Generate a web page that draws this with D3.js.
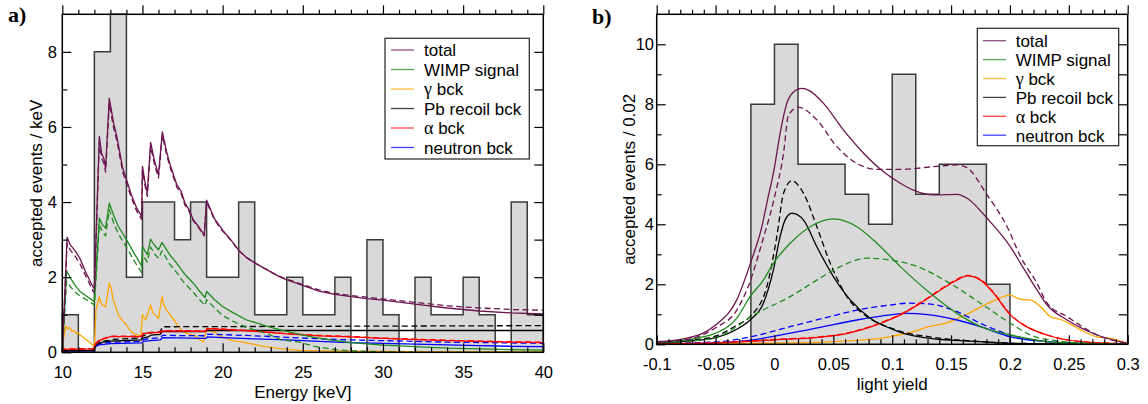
<!DOCTYPE html>
<html>
<head>
<meta charset="utf-8">
<script src="https://cdn.jsdelivr.net/npm/d3@7"></script>
<style>
  body { margin: 0; background: #fff; }
  svg { display: block; }
</style>
</head>
<body>
<svg id="chart" width="1148" height="404"></svg>
<script>
// ---------- panel a: energy spectrum ----------
const energyBinStart = [10,11,12,13,14,15,16,17,18,19,20,21,22,23,24,25,26,27,28,29,30,31,32,33,34,35,36,37,38,39];
const energyCounts   = [1,0,8,9,2,4,4,3,4,2,2,4,1,1,2,1,1,2,0,3,1,0,2,1,1,2,1,0,4,1];
const energyTicks = [10,15,20,25,30,35,40];
const energyCountTicks = [0,2,4,6,8];

const totalA = [[10,0],[10.02,0.2],[10.3,3.06],[10.5,2.86],[10.8,2.7],[11.1,2.5],[11.5,2.1],[11.93,1.73],[12,1.7],[12.31,5.75],[12.45,5.3],[12.6,5.15],[12.7,4.9],[12.93,6.77],[13.2,6.1],[13.4,5.75],[13.77,4.9],[14,4.6],[14.3,4.2],[14.64,3.84],[14.95,3.62],[15,4.95],[15.15,4.55],[15.3,4.24],[15.51,5.59],[15.75,5.1],[16,4.73],[16.24,5.87],[16.5,5.35],[16.72,5.0],[17.14,4.46],[17.4,4.3],[17.65,3.97],[17.9,3.8],[18.17,3.53],[18.5,3.35],[18.85,3.12],[19,4.05],[19.5,3.55],[20,3.25],[20.5,3.0],[21,2.72],[21.5,2.52],[22,2.38],[22.75,2.2],[23.5,2.02],[24,1.93],[25,1.78],[26,1.63],[27,1.54],[28,1.48],[29,1.43],[30,1.39],[32,1.28],[34,1.18],[36,1.1],[38,1.05],[40,1.02]];
const totalDashA = [[10,0],[10.02,0.2],[10.3,2.9],[10.5,2.72],[10.8,2.56],[11.1,2.36],[11.5,2.0],[11.93,1.62],[12,1.6],[12.31,5.6],[12.45,5.18],[12.6,5.02],[12.7,4.8],[12.93,6.62],[13.2,5.98],[13.4,5.64],[13.77,4.8],[14,4.5],[14.3,4.12],[14.64,3.76],[14.95,3.54],[15,4.85],[15.15,4.46],[15.3,4.15],[15.51,5.48],[15.75,5.0],[16,4.64],[16.24,5.78],[16.5,5.27],[16.72,4.93],[17.14,4.4],[17.4,4.24],[17.65,3.92],[17.9,3.76],[18.17,3.5],[18.5,3.32],[18.85,3.1],[19,4.0],[19.5,3.52],[20,3.23],[20.5,2.99],[21,2.71],[21.5,2.52],[22,2.38],[22.75,2.2],[23.5,2.03],[24,1.95],[25,1.8],[26,1.66],[27,1.57],[28,1.51],[29,1.47],[30,1.42],[32,1.33],[34,1.24],[36,1.18],[38,1.14],[40,1.12]];
const wimpA = [[10,0],[10.02,0.15],[10.27,2.17],[10.5,1.98],[10.8,1.78],[11.1,1.62],[11.5,1.5],[11.93,1.37],[12,1.35],[12.31,3.57],[12.5,3.4],[12.7,3.31],[12.93,3.97],[13.2,3.65],[13.5,3.35],[14,3.0],[14.5,2.62],[14.95,2.3],[15,2.82],[15.15,2.7],[15.3,2.6],[15.51,3.01],[15.75,2.85],[16,2.73],[16.22,2.92],[16.7,2.6],[17.14,2.37],[17.6,2.1],[18.17,1.84],[18.5,1.66],[18.9,1.46],[19,1.62],[19.5,1.4],[20,1.22],[20.67,1.05],[21.5,0.86],[22.75,0.7],[23.6,0.6],[24.8,0.48],[25.7,0.4],[27,0.31],[28,0.26],[30,0.19],[32,0.15],[34,0.11],[36,0.09],[38,0.07],[40,0.06]];
const wimpDashA = [[10,0],[10.02,0.12],[10.27,1.9],[10.5,1.75],[10.8,1.6],[11.1,1.5],[11.5,1.4],[11.93,1.28],[12,1.26],[12.31,3.4],[12.5,3.2],[12.7,3.1],[12.93,3.8],[13.2,3.45],[13.5,3.15],[14,2.8],[14.5,2.42],[14.95,2.12],[15,2.62],[15.15,2.5],[15.3,2.4],[15.51,2.8],[15.75,2.62],[16,2.5],[16.22,2.7],[16.7,2.35],[17.14,2.12],[17.6,1.85],[18.17,1.6],[18.5,1.43],[18.9,1.25],[19,1.4],[19.5,1.18],[20,0.98],[20.67,0.82],[21.5,0.66],[22.75,0.5],[23.6,0.34],[24.8,0.27],[25.7,0.16],[27,0.07],[28,0.04],[30,0.01],[32,0.0],[40,0.0]];
const gammaA = [[10,0],[10.05,0.3],[10.23,0.7],[10.35,0.62],[10.45,0.66],[10.6,0.56],[10.69,0.58],[10.9,0.5],[11.0,0.52],[11.1,0.46],[11.3,0.4],[11.52,0.33],[11.75,0.25],[11.93,0.18],[12,0.16],[12.1,1.13],[12.31,1.48],[12.42,1.3],[12.52,1.26],[12.7,1.21],[12.93,1.84],[13.05,1.7],[13.18,1.39],[13.35,1.2],[13.5,0.99],[13.75,0.85],[14,0.73],[14.2,0.6],[14.43,0.51],[14.9,0.42],[15,1.0],[15.2,0.86],[15.35,1.05],[15.51,1.26],[15.65,1.05],[15.8,0.99],[16,0.9],[16.22,1.48],[16.35,1.25],[16.5,1.13],[16.75,0.98],[17.03,0.82],[17.3,0.66],[17.55,0.55],[17.8,0.5],[18.2,0.46],[18.5,0.36],[18.8,0.28],[19,0.64],[19.2,0.58],[19.4,0.55],[19.65,0.5],[19.9,0.42],[20.2,0.38],[20.46,0.33],[20.8,0.3],[21.2,0.28],[21.6,0.24],[21.9,0.22],[22.3,0.18],[22.75,0.15],[23.5,0.1],[24.8,0.05],[26,0.04],[28,0.03],[32,0.02],[40,0.01]];
const pbA = [[10,0],[10.05,0.04],[11.95,0.05],[12,0.1],[12.1,0.2],[12.3,0.24],[12.5,0.27],[12.9,0.29],[13,0.3],[14.95,0.33],[15,0.38],[15.4,0.42],[15.55,0.46],[16.1,0.48],[16.25,0.55],[18.95,0.55],[19.05,0.58],[40,0.58]];
const pbDashA = [[10,0],[10.05,0.05],[11.95,0.06],[12.1,0.24],[12.3,0.28],[12.9,0.32],[13,0.34],[14.95,0.38],[15,0.43],[15.5,0.52],[16.1,0.54],[16.25,0.68],[40,0.71]];
const alphaA = [[10,0],[10.05,0.08],[11.95,0.09],[12.05,0.2],[12.3,0.32],[12.9,0.4],[13,0.42],[14.95,0.42],[15.05,0.5],[15.5,0.52],[16.1,0.53],[16.25,0.57],[18.95,0.56],[19.05,0.63],[20,0.61],[22,0.56],[24,0.49],[26,0.44],[28,0.41],[30,0.37],[32,0.34],[34,0.31],[36,0.29],[38,0.27],[40,0.26]];
const alphaDashA = [[10,0],[10.05,0.09],[11.95,0.1],[12.05,0.21],[12.3,0.33],[12.9,0.41],[13,0.43],[14.95,0.43],[15.05,0.51],[15.5,0.53],[16.1,0.54],[16.25,0.58],[18.95,0.57],[19.05,0.64],[20,0.62],[22,0.57],[24,0.5],[26,0.45],[28,0.42],[30,0.38],[32,0.35],[34,0.32],[36,0.3],[38,0.28],[40,0.27]];
const neutronA = [[10,0],[10.05,0.03],[11.95,0.04],[12.05,0.14],[12.3,0.2],[13,0.23],[14.95,0.25],[15.05,0.29],[15.5,0.31],[16.1,0.33],[16.25,0.39],[18.95,0.37],[19.05,0.41],[20,0.39],[22,0.36],[24,0.33],[26,0.29],[28,0.26],[30,0.24],[32,0.22],[34,0.2],[36,0.18],[38,0.16],[40,0.15]];
const neutronDashA = [[10,0],[10.05,0.04],[11.95,0.05],[12.05,0.16],[12.3,0.23],[13,0.27],[14.95,0.29],[15.05,0.34],[15.5,0.37],[16.1,0.39],[16.25,0.45],[18.95,0.44],[19.05,0.48],[20,0.47],[22,0.44],[24,0.4],[26,0.36],[28,0.33],[30,0.31],[32,0.29],[34,0.27],[36,0.26],[38,0.25],[40,0.24]];

// ---------- panel b: light yield ----------
const yieldBinStart = [-0.02,0,0.02,0.04,0.06,0.08,0.1,0.12,0.14,0.16,0.18];
const yieldCounts   = [8,10,6,6,5,4,9,5,6,6,2];
const yieldTicks = [-0.1,-0.05,0,0.05,0.1,0.15,0.2,0.25,0.3];
const yieldCountTicks = [0,2,4,6,8,10];

const totalB = [[-0.1,0.09],[-0.075,0.2],[-0.05,0.64],[-0.032,1.48],[-0.02,2.75],[-0.0107,3.92],[-0.0065,4.7],[0,5.9],[0.0048,7.03],[0.0105,8.03],[0.016,8.4],[0.0233,8.53],[0.03,8.45],[0.0417,8.03],[0.0587,7.14],[0.0757,6.37],[0.0927,5.75],[0.1069,5.37],[0.118,5.14],[0.135,4.98],[0.155,5.0],[0.1636,4.87],[0.1806,4.2],[0.2004,3.25],[0.209,2.7],[0.223,1.81],[0.2316,1.31],[0.2486,0.81],[0.274,0.31],[0.3,0.03]];
const totalDashB = [[-0.1,0.07],[-0.075,0.15],[-0.05,0.55],[-0.032,1.14],[-0.0207,2.09],[-0.0107,3.37],[0,4.9],[0.0077,6.37],[0.0119,7.64],[0.0204,7.9],[0.036,7.48],[0.053,6.59],[0.07,6.03],[0.087,5.83],[0.107,5.83],[0.135,5.92],[0.155,5.98],[0.163,5.9],[0.1806,4.98],[0.1976,3.92],[0.209,2.92],[0.223,2.03],[0.2316,1.37],[0.2486,0.92],[0.274,0.31],[0.3,0.03]];
const wimpB = [[-0.1,0.07],[-0.075,0.15],[-0.05,0.37],[-0.032,0.87],[-0.0207,1.59],[-0.0094,2.14],[-0.0009,2.7],[0.0134,3.37],[0.0304,3.92],[0.0502,4.18],[0.07,3.92],[0.087,3.37],[0.1069,2.59],[0.1324,1.7],[0.155,1.03],[0.175,0.59],[0.2004,0.31],[0.2316,0.09],[0.26,0.03],[0.3,0]];
const wimpDashB = [[-0.1,0.05],[-0.075,0.1],[-0.05,0.22],[-0.032,0.59],[-0.0207,0.9],[-0.015,1.03],[0.0134,1.59],[0.036,2.14],[0.0559,2.59],[0.0786,2.87],[0.0984,2.81],[0.118,2.64],[0.1466,2.09],[0.175,1.37],[0.2004,0.7],[0.2174,0.31],[0.2457,0.09],[0.27,0.03],[0.3,0]];
const gammaB = [[-0.1,0.01],[-0.05,0.02],[0,0.04],[0.05,0.09],[0.0728,0.14],[0.0898,0.2],[0.101,0.28],[0.118,0.42],[0.13,0.58],[0.147,0.72],[0.163,1.0],[0.186,1.45],[0.2,1.64],[0.209,1.5],[0.2174,1.48],[0.226,1.25],[0.2344,0.92],[0.2443,0.81],[0.25,0.7],[0.26,0.48],[0.274,0.25],[0.285,0.2],[0.3,0.03]];
const pbB = [[-0.1,0.05],[-0.075,0.1],[-0.05,0.22],[-0.032,0.5],[-0.0207,0.81],[-0.0094,1.37],[-0.0009,2.48],[0.0048,3.59],[0.009,4.14],[0.0148,4.37],[0.0247,4.14],[0.036,3.25],[0.0502,2.25],[0.0644,1.48],[0.0814,0.87],[0.0984,0.53],[0.107,0.4],[0.132,0.2],[0.175,0.09],[0.2,0.03],[0.25,0.01],[0.3,0]];
const pbDashB = [[-0.1,0.06],[-0.075,0.12],[-0.05,0.27],[-0.032,0.64],[-0.0207,0.92],[-0.0065,1.92],[0.002,3.59],[0.0077,5.03],[0.0148,5.45],[0.0247,5.03],[0.036,3.92],[0.0474,2.7],[0.0616,1.59],[0.0786,0.92],[0.0984,0.55],[0.107,0.43],[0.132,0.25],[0.175,0.09],[0.2,0.04],[0.25,0.01],[0.3,0]];
const alphaB = [[-0.1,0.02],[-0.05,0.05],[-0.02,0.1],[0,0.15],[0.0417,0.25],[0.06,0.35],[0.075,0.5],[0.09,0.7],[0.107,0.98],[0.124,1.37],[0.141,1.81],[0.155,2.14],[0.1636,2.28],[0.175,2.14],[0.1862,1.7],[0.2004,0.98],[0.2117,0.64],[0.2316,0.31],[0.26,0.09],[0.3,0.02]];
const alphaDashB = [[-0.1,0.02],[-0.05,0.05],[-0.02,0.11],[0,0.16],[0.0417,0.26],[0.06,0.36],[0.075,0.51],[0.09,0.71],[0.107,1.0],[0.124,1.39],[0.141,1.83],[0.155,2.17],[0.1636,2.3],[0.175,2.16],[0.1862,1.72],[0.2004,0.99],[0.2117,0.65],[0.2316,0.31],[0.26,0.09],[0.3,0.02]];
const neutronB = [[-0.1,0.02],[-0.05,0.05],[-0.02,0.14],[0.0134,0.37],[0.0417,0.59],[0.07,0.81],[0.0984,0.98],[0.1126,1.03],[0.13,0.99],[0.155,0.81],[0.175,0.59],[0.2004,0.25],[0.2316,0.09],[0.26,0.03],[0.3,0]];
const neutronDashB = [[-0.1,0.03],[-0.05,0.08],[-0.02,0.25],[0.0134,0.59],[0.0417,0.87],[0.07,1.14],[0.0984,1.31],[0.1126,1.37],[0.13,1.35],[0.155,1.09],[0.175,0.7],[0.2004,0.31],[0.2316,0.09],[0.26,0.03],[0.3,0]];

const legendNames = ["total","WIMP signal","\u03b3 bck","Pb recoil bck","\u03b1 bck","neutron bck"];
const seriesColors = ["#6b1450","#1e8b1e","#ffa500","#000000","#ff0000","#0000ff"];

// ---------- drawing ----------
const svg = d3.select("#chart");
const SANS = "'Liberation Sans', Arial, Helvetica, sans-serif";
const SERIF = "'Liberation Serif', 'Times New Roman', serif";

const xA = d3.scaleLinear().domain([10, 40]).range([62.3, 543.3]);
const yA = d3.scaleLinear().domain([0, 9]).range([352.3, 14.3]);
const xB = d3.scaleLinear().domain([-0.1, 0.3]).range([656.7, 1127.7]);
const yB = d3.scaleLinear().domain([0, 11]).range([344.3, 14.3]);

// filled step histogram with its outline
function histogram(x, y, starts, counts, width) {
  const last = starts[starts.length - 1] + width;
  const pts = starts.map((s, i) => [s, counts[i]]);
  pts.push([last, counts[counts.length - 1]]);
  const area = d3.area().curve(d3.curveStepAfter)
    .x(d => x(d[0])).y0(y(0)).y1(d => y(d[1]));
  svg.append("path").attr("d", area(pts)).attr("fill", "#d9d9d9").attr("stroke", "none");
  const stepPts = [[starts[0], 0]];
  starts.forEach((s, i) => { stepPts.push([s, counts[i]]); stepPts.push([s + width, counts[i]]); });
  stepPts.push([last, 0]);
  const path = d3.line().x(d => x(d[0])).y(d => y(d[1]));
  svg.append("path").attr("d", path(stepPts)).attr("fill", "none")
    .attr("stroke", "#3a3a3a").attr("stroke-width", 1.5);
}

function curve(x, y, data, color, dashed, gen) {
  const line = d3.line().curve(gen).x(d => x(d[0])).y(d => y(d[1]));
  svg.append("path").attr("d", line(data)).attr("fill", "none")
    .attr("stroke", color).attr("stroke-width", 1.3)
    .attr("stroke-linejoin", "round")
    .attr("stroke-dasharray", dashed ? "6,3.5" : null);
}

function axis(gen, tx, ty, values, size, pad, fmt) {
  const g = svg.append("g").attr("transform", `translate(${tx},${ty})`)
    .call(gen.tickValues(values).tickSizeInner(size).tickSizeOuter(0).tickPadding(pad).tickFormat(fmt));
  g.select(".domain").remove();
  g.attr("font-family", SANS).attr("font-size", 16.5);
  g.selectAll("line").attr("stroke", "#000").attr("stroke-width", 1.2);
  g.selectAll("text").attr("fill", "#000");
  return g;
}

function frame(x, y) {
  const [x0, x1] = x.range(), [y0, y1] = y.range();
  svg.append("rect").attr("x", x0).attr("y", y1).attr("width", x1 - x0).attr("height", y0 - y1)
    .attr("fill", "none").attr("stroke", "#000").attr("stroke-width", 1.5);
}

function legend(x0, y0, w, h, lineX, textX, firstY, step) {
  svg.append("rect").attr("x", x0).attr("y", y0).attr("width", w).attr("height", h)
    .attr("fill", "#fff").attr("stroke", "#333").attr("stroke-width", 1.3);
  legendNames.forEach((name, i) => {
    const cy = firstY + i * step;
    svg.append("line").attr("x1", lineX).attr("x2", lineX + 23).attr("y1", cy).attr("y2", cy)
      .attr("stroke", seriesColors[i]).attr("stroke-width", 1.3).attr("stroke-opacity", 0.75);
    const t = svg.append("text").attr("x", textX).attr("y", cy + 6.3)
      .attr("font-family", SANS).attr("font-size", 17).attr("fill", "#000");
    if (name[0] === "\u03b3" || name[0] === "\u03b1") {
      t.append("tspan").attr("font-family", SERIF).attr("font-size", 18).text(name[0]);
      t.append("tspan").text(name.slice(1));
    } else {
      t.text(name);
    }
  });
}

// ---- panel a ----
histogram(xA, yA, energyBinStart, energyCounts, 1);
const linA = d3.curveLinear;
curve(xA, yA, gammaA, seriesColors[2], false, linA);
curve(xA, yA, neutronA, seriesColors[5], false, linA);
curve(xA, yA, neutronDashA, seriesColors[5], true, linA);
curve(xA, yA, pbA, seriesColors[3], false, linA);
curve(xA, yA, pbDashA, seriesColors[3], true, linA);
curve(xA, yA, alphaA, seriesColors[4], false, linA);
curve(xA, yA, alphaDashA, seriesColors[4], true, linA);
curve(xA, yA, wimpA, seriesColors[1], false, linA);
curve(xA, yA, wimpDashA, seriesColors[1], true, linA);
curve(xA, yA, totalDashA, seriesColors[0], true, linA);
curve(xA, yA, totalA, seriesColors[0], false, linA);

legend(385, 38.3, 144.3, 120.7, 391, 424, 50, 19.5);

const minorE = d3.range(10, 41, 1).filter(v => v % 5 !== 0);
axis(d3.axisBottom(xA), 0, yA(0), energyTicks, -9, 14, d => d);
axis(d3.axisBottom(xA), 0, yA(0), minorE, -5, 0, "");
axis(d3.axisTop(xA), 0, yA(9), energyTicks, 9, 0, "");
axis(d3.axisTop(xA), 0, yA(9), minorE, 4.5, 0, "");
axis(d3.axisLeft(yA), xA(10), 0, energyCountTicks, -9, 5.3, d => d);
axis(d3.axisLeft(yA), xA(10), 0, [1,3,5,7], -5, 0, "");
axis(d3.axisRight(yA), xA(40), 0, [1,2,3,4,5,6,7,8], -9, 0, "");
frame(xA, yA);

svg.append("text").attr("x", (xA(10) + xA(40)) / 2).attr("y", 398)
  .attr("text-anchor", "middle").attr("font-family", SANS).attr("font-size", 17)
  .text("Energy [keV]");
svg.append("text").attr("transform", `translate(42,${(yA(0) + yA(9)) / 2}) rotate(-90)`)
  .attr("text-anchor", "middle").attr("font-family", SANS).attr("font-size", 17)
  .text("accepted events / keV");
svg.append("text").attr("x", 8).attr("y", 22).attr("font-family", SERIF)
  .attr("font-weight", "bold").attr("font-size", 22).text("a)");

// ---- panel b ----
histogram(xB, yB, yieldBinStart, yieldCounts, 0.02);
const smB = d3.curveMonotoneX;
curve(xB, yB, gammaB, seriesColors[2], false, smB);
curve(xB, yB, neutronB, seriesColors[5], false, smB);
curve(xB, yB, neutronDashB, seriesColors[5], true, smB);
curve(xB, yB, alphaB, seriesColors[4], false, smB);
curve(xB, yB, alphaDashB, seriesColors[4], true, smB);
curve(xB, yB, pbB, seriesColors[3], false, smB);
curve(xB, yB, pbDashB, seriesColors[3], true, smB);
curve(xB, yB, wimpB, seriesColors[1], false, smB);
curve(xB, yB, wimpDashB, seriesColors[1], true, smB);
curve(xB, yB, totalDashB, seriesColors[0], true, smB);
curve(xB, yB, totalB, seriesColors[0], false, smB);

legend(977.3, 28.3, 141.4, 117.4, 983, 1015.7, 40.7, 18.9);

const minorL = d3.range(-10, 31, 1).filter(v => v % 5 !== 0).map(v => v / 100);
axis(d3.axisBottom(xB), 0, yB(0), yieldTicks, -9, 14.4, d => String(d));
axis(d3.axisBottom(xB), 0, yB(0), minorL, -5, 0, "");
axis(d3.axisTop(xB), 0, yB(11), yieldTicks, 9, 0, "");
axis(d3.axisTop(xB), 0, yB(11), minorL, 4.5, 0, "");
axis(d3.axisLeft(yB), xB(-0.1), 0, yieldCountTicks, -9, 2.7, d => d);
axis(d3.axisLeft(yB), xB(-0.1), 0, [1,3,5,7,9], -5, 0, "");
axis(d3.axisRight(yB), xB(0.3), 0, [1,2,3,4,5,6,7,8,9,10], -9, 0, "");
frame(xB, yB);

svg.append("text").attr("x", (xB(-0.1) + xB(0.3)) / 2).attr("y", 390)
  .attr("text-anchor", "middle").attr("font-family", SANS).attr("font-size", 17)
  .text("light yield");
svg.append("text").attr("transform", `translate(635,${(yB(0) + yB(11)) / 2}) rotate(-90)`)
  .attr("text-anchor", "middle").attr("font-family", SANS).attr("font-size", 17)
  .text("accepted events / 0.02");
svg.append("text").attr("x", 592).attr("y", 24).attr("font-family", SERIF)
  .attr("font-weight", "bold").attr("font-size", 22).text("b)");
</script>
</body>
</html>
